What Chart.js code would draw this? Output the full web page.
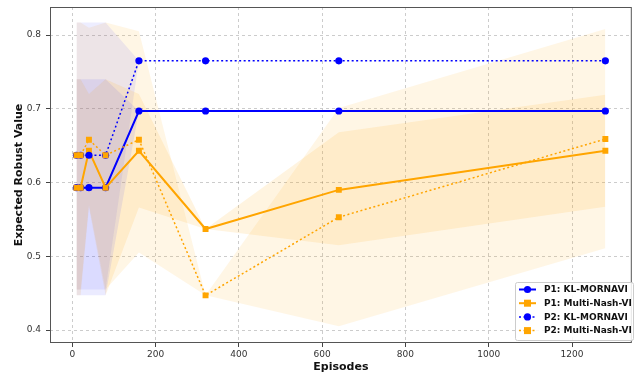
<!DOCTYPE html>
<html>
<head>
<meta charset="utf-8">
<script src="https://cdn.jsdelivr.net/npm/chart.js@4.4.1/dist/chart.umd.min.js"></script>
<style>
  html, body { margin: 0; padding: 0; background: #fff; }
  #wrap { width: 636px; height: 377px; }
</style>
</head>
<body>
<div id="wrap"><canvas id="chart" width="636" height="377"></canvas></div>
<script>
// episodes on the x axis
const episodes = [10, 20, 40, 80, 160, 320, 640, 1280];

// mean values
const p1KlMean   = [0.593, 0.593, 0.593, 0.593, 0.697, 0.697, 0.697, 0.697];
const p1NashMean = [0.593, 0.593, 0.643, 0.593, 0.643, 0.537, 0.590, 0.643];
const p2KlMean   = [0.637, 0.637, 0.637, 0.637, 0.765, 0.765, 0.765, 0.765];
const p2NashMean = [0.637, 0.637, 0.658, 0.637, 0.658, 0.447, 0.553, 0.659];

// shaded band edges
const p1KlLow    = [0.447, 0.447, 0.447, 0.447, 0.697, 0.697, 0.697, 0.697];
const p1KlHigh   = [0.740, 0.740, 0.740, 0.740, 0.697, 0.697, 0.697, 0.697];
const p1NashLow  = [0.447, 0.447, 0.566, 0.447, 0.566, 0.537, 0.515, 0.567];
const p1NashHigh = [0.740, 0.740, 0.720, 0.740, 0.720, 0.537, 0.668, 0.719];
const p2KlLow    = [0.455, 0.455, 0.455, 0.455, 0.765, 0.765, 0.765, 0.765];
const p2KlHigh   = [0.817, 0.817, 0.817, 0.817, 0.765, 0.765, 0.765, 0.765];
const p2NashLow  = [0.455, 0.455, 0.570, 0.455, 0.505, 0.447, 0.405, 0.511];
const p2NashHigh = [0.817, 0.817, 0.810, 0.817, 0.805, 0.447, 0.701, 0.808];

const xTicks = [0, 200, 400, 600, 800, 1000, 1200];
const yTicks = [0.4, 0.5, 0.6, 0.7, 0.8];

const BLUE = '#0000ff';
const ORANGE = '#ffa500';

const series = [
    { label: 'P1: KL-MORNAVI',    mean: p1KlMean,   low: p1KlLow,   high: p1KlHigh,   color: BLUE,   band: 'rgba(0,0,255,0.08)',   marker: 'circle', dash: [],       order: 3 },
    { label: 'P1: Multi-Nash-VI', mean: p1NashMean, low: p1NashLow, high: p1NashHigh, color: ORANGE, band: 'rgba(255,165,0,0.12)', marker: 'rect',   dash: [],       order: 2 },
    { label: 'P2: KL-MORNAVI',    mean: p2KlMean,   low: p2KlLow,   high: p2KlHigh,   color: BLUE,   band: 'rgba(0,0,255,0.07)',   marker: 'circle', dash: [2, 2.5], order: 1 },
    { label: 'P2: Multi-Nash-VI', mean: p2NashMean, low: p2NashLow, high: p2NashHigh, color: ORANGE, band: 'rgba(255,165,0,0.1)',  marker: 'rect',   dash: [2, 2.5], order: 0 }
];

function toPoints(vals) {
    return episodes.map((x, i) => ({ x: x, y: vals[i] }));
}

const datasets = [];
series.forEach(s => {
    datasets.push({
        label: s.label + ' upper',
        data: toPoints(s.high),
        borderWidth: 0,
        pointRadius: 0,
        fill: false,
        order: 10
    });
    datasets.push({
        label: s.label + ' lower',
        data: toPoints(s.low),
        borderWidth: 0,
        pointRadius: 0,
        backgroundColor: s.band,
        fill: '-1',
        order: 10
    });
});
series.forEach(s => {
    datasets.push({
        label: s.label,
        data: toPoints(s.mean),
        borderColor: s.color,
        backgroundColor: s.color,
        borderWidth: s.dash.length ? 1.5 : 2,
        borderDash: s.dash,
        pointStyle: s.marker,
        pointRadius: s.marker === 'rect' ? 4.2 : 3.6,
        pointBorderWidth: 0,
        fill: false,
        order: s.order
    });
});

// frame + legend, drawn by hand so the legend sits inside the axes
const framePlugin = {
    id: 'frame',
    afterDraw(chart) {
        const ctx = chart.ctx;
        const a = chart.chartArea;
        ctx.save();
        ctx.strokeStyle = '#555';
        ctx.lineWidth = 1;
        ctx.strokeRect(a.left + 0.5, a.top + 0.5, a.right - a.left - 1, a.bottom - a.top - 1);

        // legend box
        const bx = 515.5, by = 282.5, bw = 118, bh = 58;
        ctx.fillStyle = 'rgba(255,255,255,0.85)';
        ctx.strokeStyle = '#ccc';
        ctx.beginPath();
        ctx.roundRect(bx, by, bw, bh, 2);
        ctx.fill();
        ctx.stroke();

        ctx.font = 'bold 9px "DejaVu Sans"';
        ctx.textBaseline = 'middle';
        series.forEach((s, i) => {
            const y = 289.5 + i * 13.7;
            ctx.strokeStyle = s.color;
            ctx.lineWidth = s.dash.length ? 1.5 : 2;
            ctx.setLineDash(s.dash);
            ctx.beginPath();
            ctx.moveTo(519, y);
            ctx.lineTo(536, y);
            ctx.stroke();
            ctx.setLineDash([]);
            ctx.fillStyle = s.color;
            if (s.marker === 'rect') {
                ctx.fillRect(527.5 - 3.5, y - 3.5, 7, 7);
            } else {
                ctx.beginPath();
                ctx.arc(527.5, y, 3.6, 0, Math.PI * 2);
                ctx.fill();
            }
            ctx.fillStyle = '#111';
            ctx.fillText(s.label, 544, y + 0.5);
        });
        ctx.restore();
    }
};

new Chart(document.getElementById('chart'), {
    type: 'line',
    data: { datasets: datasets },
    plugins: [framePlugin],
    options: {
        responsive: false,
        animation: false,
        layout: { padding: { top: 7, right: 2, left: 0, bottom: 0 } },
        plugins: {
            legend: { display: false },
            tooltip: { enabled: false },
            filler: { drawTime: 'beforeDatasetsDraw' }
        },
        scales: {
            x: {
                type: 'linear',
                min: -53.5,
                max: 1343.5,
                afterBuildTicks: scale => { scale.ticks = xTicks.map(v => ({ value: v })); },
                afterFit: scale => {
                    scale.height = 34;
                    scale.paddingLeft = 0;
                    scale.paddingRight = 0;
                },
                ticks: {
                    includeBounds: false,
                    color: '#333',
                    font: { family: 'DejaVu Sans', size: 9 },
                    padding: 2,
                    maxRotation: 0,
                    callback: v => String(v)
                },
                grid: {
                    color: 'rgba(0,0,0,0.2)',
                    tickColor: '#444',
                    tickLength: 4
                },
                border: { display: false, dash: [3, 3] },
                title: {
                    display: true,
                    text: 'Episodes',
                    color: '#111',
                    font: { family: 'DejaVu Sans', size: 11, weight: 'bold' },
                    padding: { top: 2, bottom: 3 }
                }
            },
            y: {
                type: 'linear',
                min: 0.3824,
                max: 0.838,
                afterBuildTicks: scale => { scale.ticks = yTicks.map(v => ({ value: v })); },
                afterFit: scale => {
                    scale.width = 50;
                    scale.paddingTop = 0;
                    scale.paddingBottom = 0;
                },
                ticks: {
                    includeBounds: false,
                    color: '#333',
                    font: { family: 'DejaVu Sans', size: 9 },
                    padding: 5,
                    callback: v => v.toFixed(1)
                },
                grid: {
                    color: 'rgba(0,0,0,0.2)',
                    tickColor: '#444',
                    tickLength: 4
                },
                border: { display: false, dash: [3, 3] },
                title: {
                    display: true,
                    text: 'Expected Robust Value',
                    color: '#111',
                    font: { family: 'DejaVu Sans', size: 11, weight: 'bold' },
                    padding: { top: 13, bottom: 2 }
                }
            }
        }
    }
});
</script>
</body>
</html>
